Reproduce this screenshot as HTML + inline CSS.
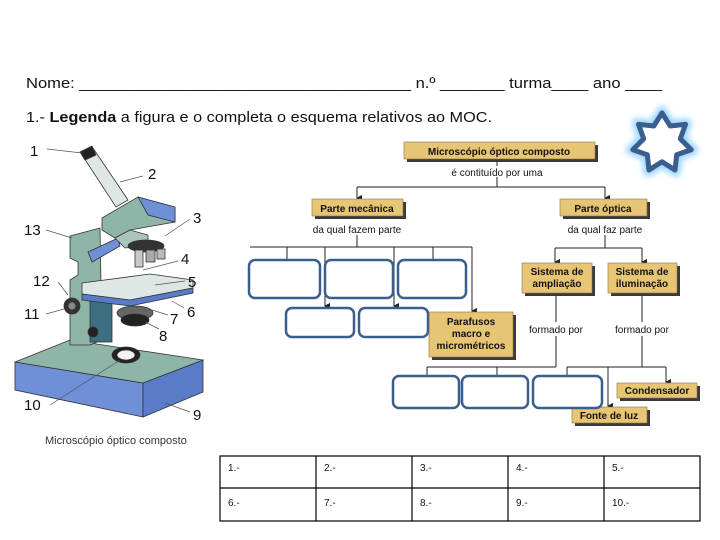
<!DOCTYPE html>
<html><head><meta charset="utf-8"><style>
body{margin:0;background:#fff;}
svg{display:block;font-family:"Liberation Sans",sans-serif;}
</style></head><body>
<svg width="720" height="540" viewBox="0 0 720 540" xmlns="http://www.w3.org/2000/svg">
<defs>
<marker id="ar" markerWidth="6" markerHeight="6" refX="3" refY="5" orient="auto" markerUnits="userSpaceOnUse"><path d="M0,0 L6,0 L3,6 z" fill="#222"/></marker>
<filter id="glow" x="-50%" y="-50%" width="200%" height="200%"><feGaussianBlur stdDeviation="3"/></filter>
</defs>
<text x="26" y="88" font-size="15" fill="#111" textLength="636" lengthAdjust="spacingAndGlyphs">Nome: ____________________________________ n.º _______  turma____ ano ____</text>
<text x="26" y="122" font-size="15" fill="#111" textLength="466" lengthAdjust="spacingAndGlyphs">1.- <tspan font-weight="bold">Legenda</tspan> a figura e o completa o esquema relativos  ao MOC.</text>

<!-- star -->
<g transform="translate(662,143)">
<path d="M0,-32 L8.68,-18.02 L25,-19.95 L19.5,-4.45 L31.2,7.12 L15.64,12.47 L13.88,28.83 L0,20 L-13.88,28.83 L-15.64,12.47 L-31.2,7.12 L-19.5,-4.45 L-25,-19.95 L-8.68,-18.02 Z" fill="none" stroke="#9fd8ff" stroke-width="10" stroke-linejoin="round" filter="url(#glow)"/>
<path d="M0,-30 L8.2,-17 L23.5,-18.7 L18.3,-4.2 L29.2,6.7 L14.7,11.7 L13,27 L0,18.8 L-13,27 L-14.7,11.7 L-29.2,6.7 L-18.3,-4.2 L-23.5,-18.7 L-8.2,-17 Z" fill="#fff" stroke="#3a5f8e" stroke-width="5" stroke-linejoin="round"/>
</g>

<!-- concept map -->
<g font-size="10" fill="#111">
<g stroke="#222" stroke-width="1" fill="none">
<line x1="497" y1="160" x2="497" y2="166"/><line x1="497" y1="177" x2="497" y2="187"/>
<line x1="357" y1="187" x2="605" y2="187"/>
<line x1="357" y1="187" x2="357" y2="198" marker-end="url(#ar)"/>
<line x1="605" y1="187" x2="605" y2="198" marker-end="url(#ar)"/>
<line x1="357" y1="235" x2="357" y2="247"/>
<line x1="250" y1="247" x2="472" y2="247"/>
<line x1="287" y1="247" x2="287" y2="260"/><line x1="433" y1="247" x2="433" y2="260"/>
<line x1="325" y1="247" x2="325" y2="306" marker-end="url(#ar)"/>
<line x1="394" y1="247" x2="394" y2="306" marker-end="url(#ar)"/>
<line x1="472" y1="247" x2="472" y2="311" marker-end="url(#ar)"/>
<line x1="605" y1="235" x2="605" y2="248"/>
<line x1="555" y1="248" x2="642" y2="248"/>
<line x1="555" y1="248" x2="555" y2="262" marker-end="url(#ar)"/>
<line x1="642" y1="248" x2="642" y2="262" marker-end="url(#ar)"/>
<line x1="556" y1="294" x2="556" y2="322"/><line x1="556" y1="336" x2="556" y2="367"/>
<line x1="427" y1="367" x2="556" y2="367"/>
<line x1="427" y1="367" x2="427" y2="376"/><line x1="497" y1="367" x2="497" y2="376"/>
<line x1="642" y1="294" x2="642" y2="322"/><line x1="642" y1="336" x2="642" y2="367"/>
<line x1="567" y1="367" x2="666" y2="367"/>
<line x1="567" y1="367" x2="567" y2="376"/>
<line x1="666" y1="367" x2="666" y2="382" marker-end="url(#ar)"/>
<line x1="608" y1="367" x2="608" y2="406" marker-end="url(#ar)"/>
</g>
<g fill="#3a3a3a">
<rect x="407" y="145" width="191" height="17"/><rect x="315" y="202" width="91" height="17"/><rect x="563" y="202" width="87" height="17"/>
<rect x="525" y="266" width="70" height="30"/><rect x="611" y="266" width="69" height="30"/><rect x="432" y="315" width="84" height="45"/>
<rect x="620" y="386" width="80" height="15"/><rect x="575" y="410" width="75" height="16"/>
</g>
<g fill="#e6c574" stroke="#8a7440" stroke-width="0.6">
<rect x="404" y="142" width="191" height="17"/><rect x="312" y="199" width="91" height="17"/><rect x="560" y="199" width="87" height="17"/>
<rect x="522" y="263" width="70" height="30"/><rect x="608" y="263" width="69" height="30"/><rect x="429" y="312" width="84" height="45"/>
<rect x="617" y="383" width="80" height="15"/><rect x="572" y="407" width="75" height="16"/>
</g>
<g text-anchor="middle" font-weight="bold">
<text x="499" y="155">Microscópio óptico composto</text>
<text x="357" y="212">Parte mecânica</text>
<text x="603" y="212">Parte óptica</text>
<text x="557" y="275">Sistema de</text><text x="557" y="287">ampliação</text>
<text x="642" y="275">Sistema de</text><text x="642" y="287">iluminação</text>
<text x="471" y="325">Parafusos</text><text x="471" y="337">macro e</text><text x="471" y="349">micrométricos</text>
<text x="657" y="394">Condensador</text>
<text x="609" y="419">Fonte de luz</text>
</g>
<g text-anchor="middle">
<text x="497" y="176">é contituído por uma</text>
<text x="357" y="233">da qual fazem parte</text>
<text x="605" y="233">da qual faz parte</text>
<text x="556" y="333">formado por</text>
<text x="642" y="333">formado por</text>
</g>
<g fill="#fff" stroke="#3b5f8c" stroke-width="2.5">
<rect x="249" y="260" width="71" height="38" rx="6"/><rect x="325" y="260" width="68" height="38" rx="6"/><rect x="398" y="260" width="68" height="38" rx="6"/>
<rect x="286" y="308" width="68" height="29" rx="6"/><rect x="359" y="308" width="69" height="29" rx="6"/>
<rect x="393" y="376" width="66" height="32" rx="6"/><rect x="462" y="376" width="66" height="32" rx="6"/><rect x="533" y="376" width="69" height="32" rx="6"/>
</g>
</g>

<!-- microscope -->
<g stroke="#333" stroke-width="0.8">
<polygon points="15,362 143,383 143,417 15,390" fill="#6f8fd6"/>
<polygon points="143,383 203,360 203,392 143,417" fill="#5a7cc8"/>
<polygon points="15,362 70,340 203,360 143,383" fill="#8fb5a8"/>
<ellipse cx="126" cy="355" rx="14" ry="8" fill="#222"/><ellipse cx="126" cy="355" rx="9" ry="5" fill="#f2f2f2"/>
<polygon points="70,236 100,228 102,340 90,345 70,345 70,280 78,275 78,262 70,258" fill="#8fb5a8"/>
<polygon points="88,252 118,238 120,246 92,262" fill="#6f8fd6"/>
<rect x="90" y="290" width="22" height="52" fill="#3d6f80"/>
<polygon points="82,155 93,148 128,200 116,207" fill="#dfe6e6"/>
<polygon points="80,152 92,146 96,155 85,160" fill="#222"/>
<polygon points="102,218 138,197 175,207 175,222 130,230 115,238 102,230" fill="#8fb5a8"/>
<polygon points="138,197 175,207 175,222 148,215" fill="#6f8fd6"/>
<polygon points="115,238 130,230 148,235 148,245 125,248" fill="#a9c4bf"/>
<ellipse cx="146" cy="246" rx="18" ry="6" fill="#333"/>
<rect x="135" y="250" width="8" height="17" fill="#c8c8c8"/>
<rect x="146" y="250" width="9" height="12" fill="#aaa"/>
<rect x="157" y="249" width="8" height="10" fill="#bbb"/>
<polygon points="82,283 150,274 193,280 193,288 130,300 82,294" fill="#dfe6e6"/>
<polygon points="82,294 130,300 193,288 193,293 130,306 82,300" fill="#5a7cc8"/>
<ellipse cx="135" cy="313" rx="18" ry="7" fill="#666"/>
<ellipse cx="135" cy="320" rx="14" ry="6" fill="#222"/>
<circle cx="72" cy="306" r="8" fill="#333"/><circle cx="72" cy="306" r="4" fill="#888"/>
<circle cx="93" cy="332" r="5" fill="#222"/>
</g>
<g stroke="#555" stroke-width="0.7">
<line x1="47" y1="149" x2="82" y2="153"/><line x1="143" y1="176" x2="120" y2="182"/>
<line x1="190" y1="219" x2="165" y2="236"/><line x1="46" y1="230" x2="72" y2="238"/>
<line x1="178" y1="261" x2="143" y2="270"/><line x1="58" y1="282" x2="68" y2="295"/>
<line x1="185" y1="281" x2="155" y2="285"/><line x1="46" y1="314" x2="64" y2="309"/>
<line x1="184" y1="308" x2="172" y2="301"/><line x1="168" y1="315" x2="152" y2="310"/>
<line x1="159" y1="329" x2="145" y2="322"/><line x1="50" y1="405" x2="120" y2="360"/>
<line x1="190" y1="412" x2="165" y2="403"/>
</g>
<g font-size="15" fill="#111">
<text x="30" y="156">1</text><text x="148" y="179">2</text><text x="193" y="223">3</text><text x="24" y="235">13</text>
<text x="181" y="264">4</text><text x="33" y="286">12</text><text x="188" y="287">5</text><text x="24" y="319">11</text>
<text x="187" y="317">6</text><text x="170" y="324">7</text><text x="159" y="341">8</text><text x="24" y="410">10</text><text x="193" y="420">9</text>
</g>
<text x="45" y="444" font-size="11" fill="#333">Microscópio óptico composto</text>

<!-- table -->
<g stroke="#000" stroke-width="1.2" fill="none">
<rect x="220" y="456" width="480" height="65"/>
<line x1="220" y1="488" x2="700" y2="488"/>
<line x1="316" y1="456" x2="316" y2="521"/><line x1="412" y1="456" x2="412" y2="521"/>
<line x1="508" y1="456" x2="508" y2="521"/><line x1="604" y1="456" x2="604" y2="521"/>
</g>
<g font-size="10" fill="#111">
<text x="228" y="471">1.-</text><text x="324" y="471">2.-</text><text x="420" y="471">3.-</text><text x="516" y="471">4.-</text><text x="612" y="471">5.-</text>
<text x="228" y="506">6.-</text><text x="324" y="506">7.-</text><text x="420" y="506">8.-</text><text x="516" y="506">9.-</text><text x="612" y="506">10.-</text>
</g>
</svg>
</body></html>
